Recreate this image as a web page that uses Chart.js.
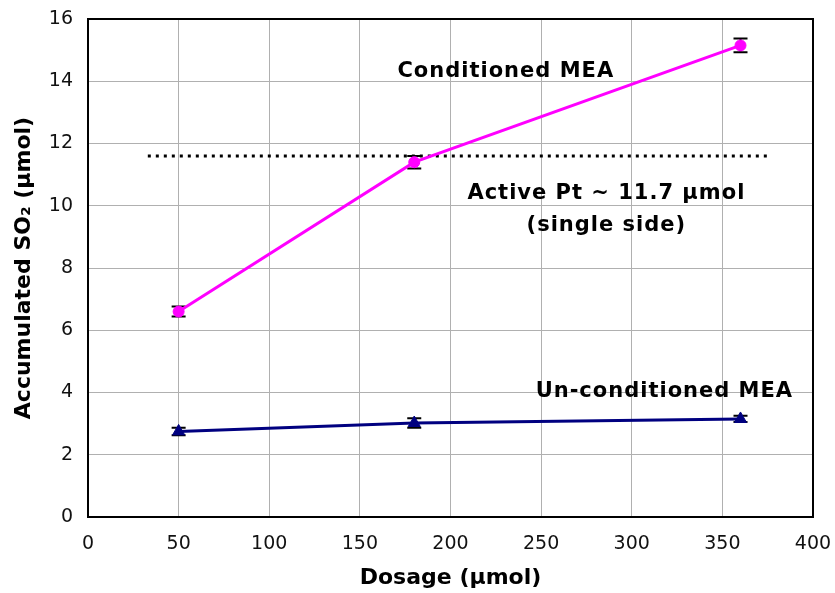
<!DOCTYPE html>
<html>
<head>
<meta charset="utf-8">
<script src="https://cdn.jsdelivr.net/npm/chart.js@4/dist/chart.umd.min.js"></script>
<style>
html,body{margin:0;padding:0;background:#fff;}
#wrap{width:835px;height:593px;position:relative;}
</style>
</head>
<body>
<div id="wrap"><canvas id="c" width="835" height="593"></canvas></div>
<script>
// ---- data ----
const dosage = [50, 180, 360];
const conditioned = [6.6, 11.4, 15.15];
const conditionedErr = [0.16, 0.2, 0.22];
const unconditioned = [2.75, 3.02, 3.15];
const unconditionedErr = [0.12, 0.15, 0.1];
const refLineX = [33, 376];
const refLineY = [11.6, 11.6];
const xTicks = [0, 50, 100, 150, 200, 250, 300, 350, 400];
const yTicks = [0, 2, 4, 6, 8, 10, 12, 14, 16];
const annotations = [
  {text: 'Conditioned MEA', x: 230.5, y: 14.3},
  {text: 'Active Pt ~ 11.7 \u03bcmol', x: 286, y: 10.38},
  {text: '(single side)', x: 286, y: 9.35},
  {text: 'Un-conditioned MEA', x: 318, y: 4.02}
];

const FONT = '"DejaVu Sans", Verdana, sans-serif';

const errorBarPlugin = {
  id: 'errbars',
  beforeDatasetsDraw(chart) {
    const ctx = chart.ctx, xs = chart.scales.x, ys = chart.scales.y;
    const sets = [[conditioned, conditionedErr], [unconditioned, unconditionedErr]];
    ctx.save();
    ctx.strokeStyle = '#000';
    ctx.lineWidth = 2;
    sets.forEach(([vals, errs]) => {
      vals.forEach((v, i) => {
        const px = xs.getPixelForValue(dosage[i]);
        const top = ys.getPixelForValue(v + errs[i]);
        const bot = ys.getPixelForValue(v - errs[i]);
        ctx.beginPath();
        ctx.moveTo(px, top); ctx.lineTo(px, bot);
        ctx.moveTo(px - 7, top); ctx.lineTo(px + 7, top);
        ctx.moveTo(px - 7, bot); ctx.lineTo(px + 7, bot);
        ctx.stroke();
      });
    });
    ctx.restore();
  }
};

const boxPlugin = {
  id: 'box',
  afterDraw(chart) {
    const ctx = chart.ctx, a = chart.chartArea;
    const xs = chart.scales.x, ys = chart.scales.y;
    ctx.save();
    ctx.fillStyle = '#000';
    ctx.font = 'bold 21px ' + FONT;
    try { ctx.letterSpacing = '1px'; } catch (e) {}
    ctx.textAlign = 'center';
    ctx.textBaseline = 'middle';
    annotations.forEach(t => {
      ctx.fillText(t.text, xs.getPixelForValue(t.x), ys.getPixelForValue(t.y));
    });
    try { ctx.letterSpacing = '0px'; } catch (e) {}
    ctx.strokeStyle = '#000';
    ctx.lineWidth = 2;
    ctx.strokeRect(a.left, a.top, a.right - a.left, a.bottom - a.top);
    ctx.restore();
  }
};

new Chart(document.getElementById('c'), {
  type: 'scatter',
  data: {
    datasets: [
      {
        label: 'Conditioned MEA',
        data: dosage.map((x, i) => ({x, y: conditioned[i]})),
        showLine: true,
        borderColor: '#FF00FF',
        backgroundColor: '#FF00FF',
        borderWidth: 3,
        pointStyle: 'circle',
        pointRadius: 5.5,
        pointBorderWidth: 1,
        order: 1
      },
      {
        label: 'Un-conditioned MEA',
        data: dosage.map((x, i) => ({x, y: unconditioned[i]})),
        showLine: true,
        borderColor: '#000080',
        backgroundColor: '#000080',
        borderWidth: 3,
        pointStyle: 'triangle',
        pointRadius: 7,
        pointBorderWidth: 1,
        order: 2
      },
      {
        label: 'Active Pt',
        data: refLineX.map((x, i) => ({x, y: refLineY[i]})),
        showLine: true,
        borderColor: '#000',
        borderWidth: 3,
        borderDash: [3, 5],
        pointRadius: 0,
        order: 3
      }
    ]
  },
  options: {
    responsive: false,
    animation: false,
    layout: {padding: {left: 0, right: 22, top: 19, bottom: 0}},
    plugins: {legend: {display: false}, tooltip: {enabled: false}},
    scales: {
      x: {
        type: 'linear', min: 0, max: 400,
        afterBuildTicks: s => { s.ticks = xTicks.map(v => ({value: v})); },
        afterFit: s => { s.height = 76; s.paddingLeft = 0; s.paddingRight = 0; },
        grid: {color: '#b0b0b0', lineWidth: 1, drawTicks: false},
        border: {color: '#000', width: 2},
        ticks: {color: '#111', font: {family: FONT, size: 19}, padding: 16},
        title: {display: true, text: 'Dosage (\u03bcmol)', color: '#000',
                font: {family: FONT, size: 22, weight: 'bold'}, padding: {top: 0, bottom: 2}}
      },
      y: {
        type: 'linear', min: 0, max: 16,
        afterBuildTicks: s => { s.ticks = yTicks.map(v => ({value: v})); },
        afterFit: s => { s.width = 88; s.paddingTop = 0; s.paddingBottom = 0; },
        grid: {color: '#b0b0b0', lineWidth: 1, drawTicks: false},
        border: {color: '#000', width: 2},
        ticks: {color: '#111', font: {family: FONT, size: 19}, padding: 15},
        title: {display: true, text: 'Accumulated SO\u2082 (\u03bcmol)', color: '#000',
                font: {family: FONT, size: 22, weight: 'bold'}, padding: {top: 11, bottom: 0}}
      }
    }
  },
  plugins: [errorBarPlugin, boxPlugin]
});
</script>
</body>
</html>
